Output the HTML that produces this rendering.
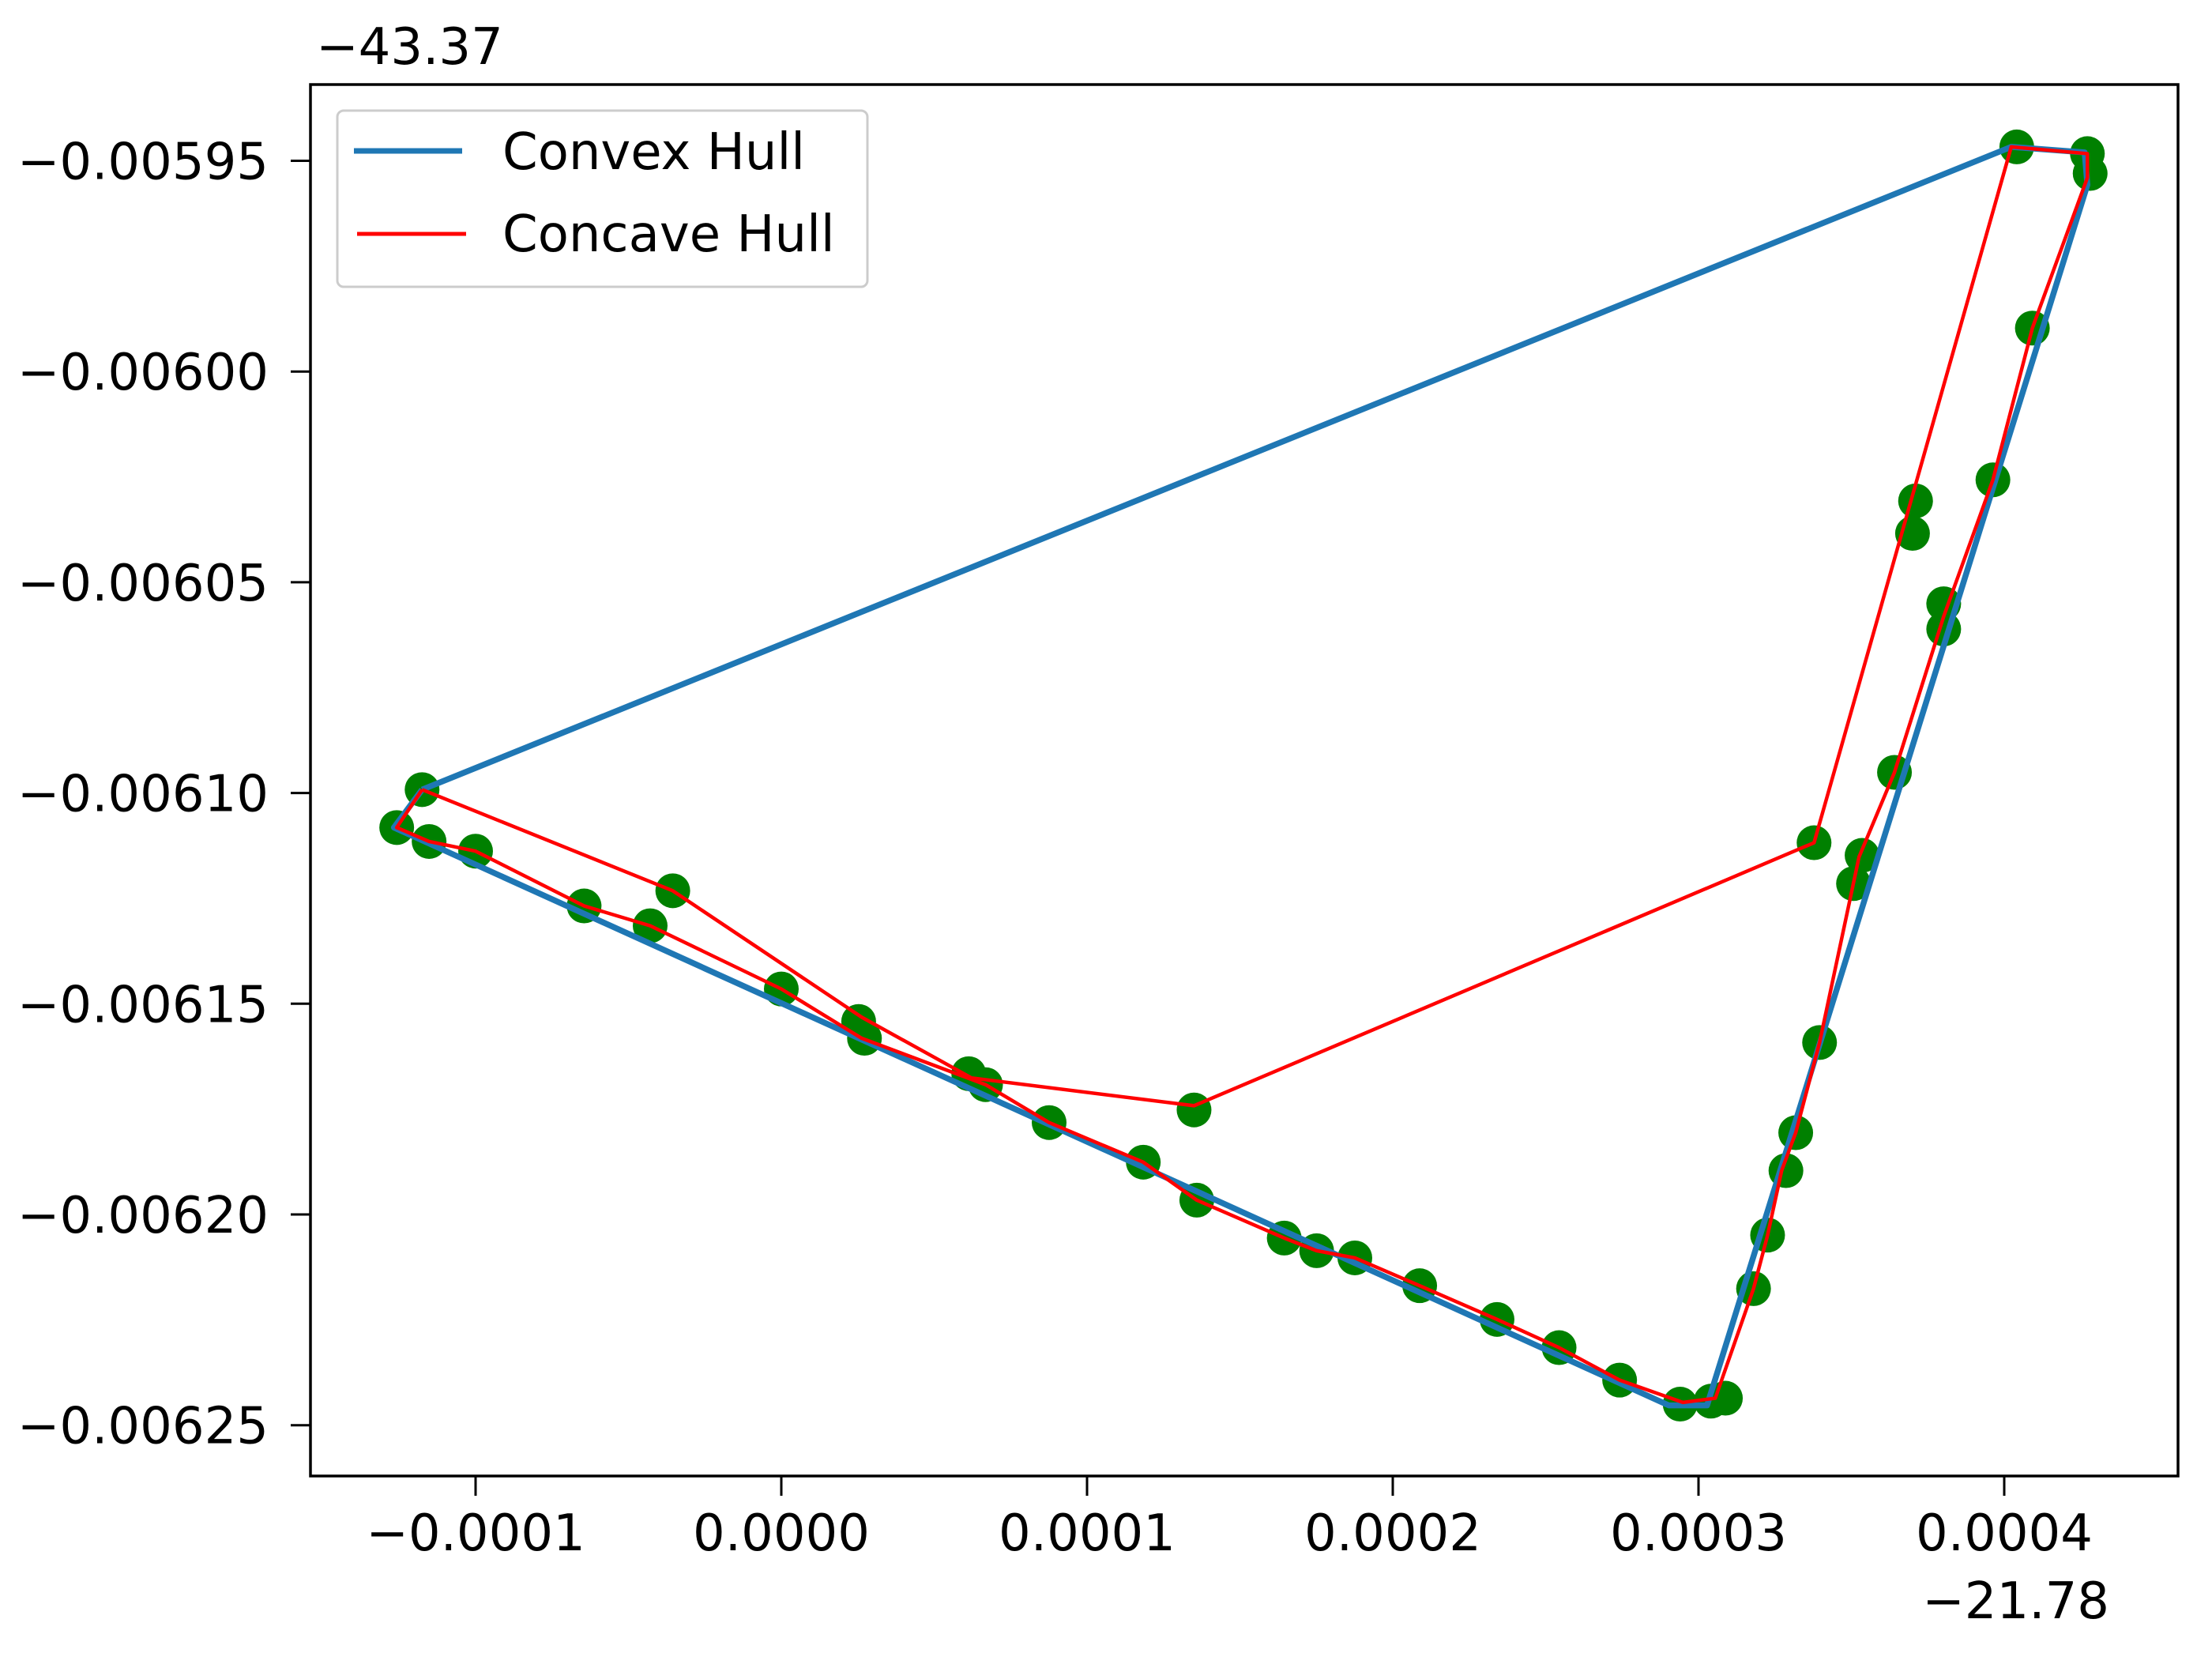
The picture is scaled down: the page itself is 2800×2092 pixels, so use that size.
<!DOCTYPE html>
<html><head><meta charset="utf-8"><style>
html,body{margin:0;padding:0;background:#fff;}
svg{display:block;font-family:"DejaVu Sans","Liberation Sans",sans-serif;}
</style></head><body>
<svg id="chart" width="2800" height="2092" viewBox="0 0 2800 2092" xmlns="http://www.w3.org/2000/svg">
<rect x="0" y="0" width="2800" height="2092" fill="#fff"/>
<g id="marks"></g>
<rect x="393" y="107" width="2364" height="1761" fill="none" stroke="#000" stroke-width="3.5"/>
<g id="ticks"></g>
<text x="400" y="81" font-size="64">−43.37</text>
<text x="2670" y="2048" font-size="64" text-anchor="end">−21.78</text>
<g>
<rect x="427" y="140" width="671" height="223" rx="8" fill="#fff" fill-opacity="0.8" stroke="#ccc" stroke-width="3"/>
<line x1="448" y1="191" x2="585" y2="191" stroke="#1f77b4" stroke-width="7"/>
<text x="636" y="214" font-size="64">Convex Hull</text>
<line x1="452" y1="296" x2="590" y2="296" stroke="#ff0000" stroke-width="5"/>
<text x="636" y="318" font-size="64">Concave Hull</text>
</g>
</svg>
<script>
// x values in units of 1e-4 (offset -21.78), y values in units of 1e-5 (offset -43.37)
const xTicks = [-1, 0, 1, 2, 3, 4];
const xTickLabels = ["−0.0001","0.0000","0.0001","0.0002","0.0003","0.0004"];
const yTicks = [-595, -600, -605, -610, -615, -620, -625];
const yTickLabels = ["−0.00595","−0.00600","−0.00605","−0.00610","−0.00615","−0.00620","−0.00625"];
const pointsX = [-1.175,-1.258,-1.152,-1.000,-0.645,-0.429,-0.355,0,0.253,0.272,0.613,0.668,0.876,1.184,1.359,1.350,1.645,1.751,1.876,2.088,2.341,2.544,2.742,2.940,3.041,3.088,3.180,3.226,3.286,3.318,3.396,3.378,3.507,3.535,3.641,3.710,3.700,3.802,3.802,3.963,4.092,4.041,4.272,4.281];
const pointsY = [-609.92,-610.82,-611.15,-611.38,-612.68,-613.15,-612.32,-614.65,-615.42,-615.82,-616.66,-616.92,-617.82,-618.76,-619.66,-617.52,-620.56,-620.86,-621.03,-621.69,-622.49,-623.16,-623.93,-624.50,-624.43,-624.36,-621.76,-620.49,-618.96,-618.06,-615.92,-611.18,-612.15,-611.48,-609.51,-603.07,-603.84,-605.51,-606.11,-602.57,-598.97,-594.67,-594.83,-595.30];
const convexX = [-1.175,4.023,4.263,4.272,3.028,2.903,-1.267,-1.175];
const convexY = [-609.92,-594.67,-594.80,-595.57,-624.53,-624.53,-610.82,-609.92];
const concaveX = [-1.175,-0.355,0.263,0.622,1.350,3.378,4.023,4.272,4.272,4.092,3.963,3.802,3.641,3.525,3.396,3.318,3.272,3.226,3.180,3.055,2.949,2.742,2.544,2.341,2.088,1.876,1.751,1.645,1.359,1.184,0.876,0.668,0.263,0,-0.429,-0.645,-1.000,-1.152,-1.258,-1.175];
const concaveY = [-609.92,-612.32,-615.32,-616.76,-617.42,-611.18,-594.67,-594.83,-595.40,-598.97,-602.57,-605.81,-609.51,-611.52,-615.92,-618.06,-618.96,-620.49,-621.76,-624.36,-624.46,-623.93,-623.16,-622.49,-621.69,-621.03,-620.86,-620.56,-619.66,-618.76,-617.82,-616.92,-615.82,-614.65,-613.15,-612.68,-611.38,-611.15,-610.82,-609.92];

const NS = "http://www.w3.org/2000/svg";
function X(v){ return 989 + v*387; }
function Y(v){ return 203.5 + (-595 - v)/5*266.7; }
const marks = document.getElementById('marks');
const ticks = document.getElementById('ticks');
function mk(tag, attrs, parent){
  const e = document.createElementNS(NS, tag);
  for (const k in attrs) e.setAttribute(k, attrs[k]);
  parent.appendChild(e); return e;
}
pointsX.forEach((x,i)=>{
  const c = mk('circle',{cx:X(x),cy:Y(pointsY[i]),r:22,fill:'#008000'},marks);
  
  
});
const cv = mk('polyline',{points:convexX.map((x,i)=>X(x)+','+Y(convexY[i])).join(' '),fill:'none',stroke:'#1f77b4','stroke-width':7.5,'stroke-linejoin':'round'},marks);


const cc = mk('polyline',{points:concaveX.map((x,i)=>X(x)+','+Y(concaveY[i])).join(' '),fill:'none',stroke:'#ff0000','stroke-width':4.5,'stroke-linejoin':'round'},marks);


xTicks.forEach((t,i)=>{
  const l = mk('line',{x1:X(t),x2:X(t),y1:1868,y2:1893,stroke:'#000','stroke-width':3},ticks);
  
  
  const tx = mk('text',{x:X(t),y:1962,'font-size':64,'text-anchor':'middle'},ticks);
  tx.textContent = xTickLabels[i];
  
  
});
yTicks.forEach((t,i)=>{
  const l = mk('line',{x1:368,x2:393,y1:Y(t),y2:Y(t),stroke:'#000','stroke-width':3},ticks);
  
  
  const tx = mk('text',{x:340,y:Y(t)+23,'font-size':64,'text-anchor':'end'},ticks);
  tx.textContent = yTickLabels[i];
  
  
});
</script>
</body></html>
